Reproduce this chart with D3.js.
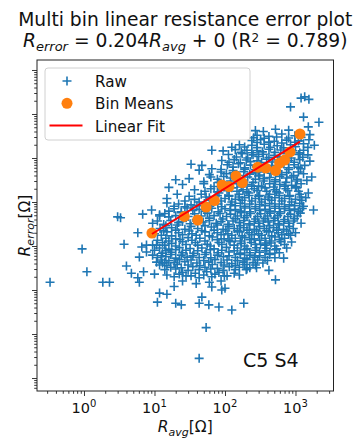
<!DOCTYPE html>
<html>
<head>
<meta charset="utf-8">
<script src="https://cdn.jsdelivr.net/npm/d3@7"></script>
<style>
  body { margin: 0; background: #fff; }
  svg { display: block; font-family: "DejaVu Sans", sans-serif; }
  text { white-space: pre; fill: #111; }
</style>
</head>
<body>
<svg id="chart" width="357" height="440"></svg>
<script>
// ---- data -------------------------------------------------------------
const titleText = "Multi bin linear resistance error plot";
const fitSlope = 0.204;
const fitIntercept = 0;
const fitR2 = 0.789;
const panelLabel = "C5 S4";
const legendLabels = ["Raw", "Bin Means", "Linear Fit"];
const xMajorExponents = [0, 1, 2, 3];
const yMajorExponents = [-3, -2, -1, 0, 1, 2, 3, 4];

// bin means  (R_avg [Ω], R_error [Ω])
const binAvg   = [9.2, 26.5, 41, 54, 71, 91, 114, 143, 176, 292, 378, 522, 595, 700, 837, 1157];
const binError = [1.97, 4.7, 3.9, 7.7, 10.8, 24.3, 22.5, 39, 27.7, 62, 59, 52, 77, 90, 137, 351];

// raw samples  [R_avg, R_error] in Ω
const rawPoints = [
  [1200,2300],[1350,2450],[1550,2150],[850,1450],[1300,850],[2150,650],[1520,510],
  [270,420],[350,400],[520,450],[800,430],
  [285,330],[420,310],[640,350],[980,320],[1600,340],
  [255,290],[360,280],[540,300],[800,285],[1200,295],
  [240,250],[320,260],[500,240],[750,255],[1100,245],[1550,260],
  [285,225],[420,230],[640,220],[980,228],
  [160,200],[240,195],[360,205],[550,190],[850,200],[1300,210],[1850,195],
  [125,175],[190,178],[285,172],[440,176],[680,170],[1000,180],[1500,174],
  [65,150],[94,145],[140,155],[205,150],[285,148],[420,158],[620,152],[910,146],[1300,150],
  [170,135],[240,132],[340,138],[510,134],[780,136],[1150,131],
  [112,120],[175,125],[250,118],[350,122],[500,115],[750,125],[1100,120],[1500,118],
  [145,105],[210,100],[300,108],[420,103],[600,106],[870,100],[1270,104],
  [90,88],[135,92],[200,90],[285,86],[390,94],[560,90],[800,88],[1150,92],[1600,85],
  [114,80],[165,78],[230,82],[330,79],[470,81],[680,77],[960,80],
  [33,72],[47,68],[108,70],[155,74],[230,69],[320,71],[460,67],[680,73],[960,70],[1350,68],
  [130,62],[190,60],[280,63],[390,61],[560,64],[800,60],[1100,62],
  [43,53],[65,57],[88,55],[130,52],[190,56],[270,54],[380,58],[540,53],[800,55],[1180,57],[1700,37],
  [88,48],[130,47],[185,49],[270,46],[360,48],[520,50],[750,47],[1100,48],
  [60,42],[105,44],[155,40],[225,43],[310,41],[450,45],[640,42],[940,40],[1300,44],
  [63,37],[96,38],[145,36],[210,37],[300,39],[430,36],[600,38],[880,37],
  [20,32],[31,34],[78,33],[120,35],[180,31],[270,33],[360,34],[520,32],[750,35],[1060,33],[1450,31],
  [50,29],[82,28],[120,30],[170,29],[250,28],[350,30],[510,29],[730,28],[1030,30],
  [25,25],[50,26],[100,24],[148,26],[205,25],[300,23],[430,26],[600,25],[880,24],[1200,26],
  [70,22.5],[112,23],[170,22],[240,23],[330,22.5],[490,22],[700,23],[1000,22.5],
  [16,21.5],[37,19],[63,20],[125,21],[180,19],[260,20],[370,21],[510,19],[730,20],[1030,21],
  [52,17.5],[78,17],[107,18],[148,17.5],[205,17],[285,18],[390,17.5],[540,17],[780,18],[1100,17.5],
  [21,15],[46,15],[82,16],[114,14],[158,15],[218,16],[310,14],[430,15],[590,16],[830,14],[1150,15],[1520,16],
  [31,13.5],[54,13],[78,14],[114,13.5],[160,13],[220,14],[300,13.5],[410,13],[590,14],[820,13.5],[1200,13],
  [15,12],[37,11.5],[60,12.5],[100,12],[140,11.5],[190,12.5],[270,12],[370,11.5],[510,12.5],[700,12],[1000,11.5],[1400,12.5],
  [27,10.5],[43,10],[63,11],[88,10.5],[125,10],[175,11],[240,10.5],[330,10],[460,11],[640,10.5],[880,10],[1230,11],
  [15,9.5],[22,9],[33,8.6],[51,9.3],[79,9],[120,8.7],[165,9.4],[225,9],[310,8.8],[430,9.2],[590,9],[820,8.6],[1150,9.3],
  [19,8],[27,7.8],[40,8.2],[61,8],[90,7.8],[140,8.2],[190,8],[270,7.8],[370,8.2],[510,8],[700,7.8],[970,8.2],[1300,8],
  [19,7],[29,7.3],[43,6.8],[65,7.2],[100,7],[140,6.7],[190,7.3],[270,7],[370,6.8],[510,7.2],[700,7],[970,6.9],[1250,7.1],[1800,6.6],
  [16,6.2],[24,6],[35,6.4],[52,6.2],[80,6],[118,6.4],[165,6.2],[225,6],[310,6.4],[430,6.2],[590,6],[820,6.4],[1100,6.2],
  [6.8,5.3],[9.1,6.6],[11.8,5.1],[14,5.5],[24,5.7],[37,5.4],[56,5.6],[85,5.5],[120,5.3],[170,5.7],[230,5.5],[320,5.4],[440,5.6],[610,5.5],[850,5.3],[1170,5.6],
  [11.8,4.8],[20,4.9],[30,4.7],[46,4.8],[70,4.9],[105,4.7],[150,4.8],[205,4.9],[290,4.7],[400,4.8],[560,4.9],[780,4.7],[1060,4.8],
  [3,4.6],[3.3,4.4],[16,4.6],[25,4.2],[39,4.0],[60,4.3],[93,4.1],[140,4.2],[190,4.4],[270,4.1],[370,4.2],[510,4.3],[700,4.0],[970,4.2],
  [11,3.7],[17,3.8],[25,3.6],[39,3.7],[60,3.8],[88,3.6],[130,3.7],[185,3.8],[260,3.6],[350,3.7],[490,3.8],[680,3.6],[940,3.7],
  [9.4,3.3],[13.5,3.1],[22,3.4],[32,3.2],[49,3.5],[75,3.3],[110,3.1],[160,3.4],[220,3.2],[300,3.3],[410,3.5],[570,3.2],[800,3.3],[1200,3.3],
  [14.5,2.9],[21,3],[33,2.8],[52,2.9],[78,3],[114,2.8],[165,2.9],[225,3],[310,2.8],[430,2.9],[590,3],[820,2.8],
  [12,2.5],[17.5,2.6],[27,2.4],[41,2.5],[64,2.7],[94,2.4],[135,2.5],[185,2.6],[260,2.4],[360,2.5],[490,2.6],[680,2.4],[930,2.5],
  [13.5,2.25],[20,2.3],[31,2.2],[47,2.25],[70,2.3],[103,2.2],[150,2.25],[205,2.3],[280,2.2],[390,2.25],[540,2.3],[750,2.2],
  [5.8,2],[10,1.9],[15,2.1],[22,2],[34,1.9],[52,2.1],[78,2],[110,1.9],[160,2.1],[220,2],[300,1.9],[420,2.1],[570,2],[800,1.9],[1000,2],
  [12.5,1.75],[17.5,1.7],[25,1.8],[39,1.75],[60,1.7],[88,1.8],[125,1.75],[175,1.7],[240,1.8],[330,1.75],[460,1.7],[640,1.8],[850,1.75],
  [14.5,1.5],[20,1.45],[30,1.55],[44,1.5],[66,1.6],[97,1.45],[140,1.5],[190,1.55],[260,1.45],[370,1.5],[510,1.6],[700,1.5],
  [11,1.35],[16,1.3],[23,1.4],[34,1.35],[52,1.3],[78,1.4],[114,1.35],[165,1.3],[225,1.4],[310,1.35],[430,1.3],[590,1.4],
  [3.7,1.1],[7.7,1.05],[9.4,1.05],[10.7,1.05],[13,1.2],[17.5,1.15],[25,1.25],[38,1.2],[56,1.1],[82,1.2],[118,1.25],[170,1.15],[235,1.2],[320,1.1],[380,1.17],[450,1.17],[620,1.25],[880,1.23],
  [14,1.05],[20,1.0],[28,1.08],[41,1.05],[62,1.0],[90,1.08],[135,1.05],[190,1.0],[270,1.08],[370,1.05],[510,1.0],[700,1.08],
  [0.94,0.86],[6.6,0.95],[11.8,0.9],[16,0.85],[22.5,0.92],[32,0.88],[47,0.9],[70,0.86],[105,0.93],[150,0.9],[205,0.87],[280,0.91],[390,0.89],[540,0.86],[750,0.9],
  [10,0.8],[14.5,0.78],[20,0.82],[28,0.8],[41,0.78],[62,0.82],[90,0.8],[135,0.78],[190,0.82],[270,0.8],[370,0.78],[510,0.82],
  [7.7,0.73],[13,0.69],[17.5,0.72],[25,0.7],[36,0.68],[54,0.71],[80,0.7],[114,0.73],[165,0.69],[225,0.7],[310,0.72],[430,0.68],[590,0.7],
  [9.4,0.62],[12.5,0.6],[17,0.64],[24,0.62],[35,0.6],[52,0.64],[78,0.62],[114,0.6],[165,0.64],[225,0.62],[310,0.6],[430,0.64],
  [6.1,0.56],[11,0.55],[14.5,0.57],[20,0.53],[29,0.56],[43,0.55],[63,0.54],[95,0.57],[140,0.55],[190,0.53],[265,0.56],[370,0.55],[510,0.54],[680,0.53],
  [12.5,0.48],[16,0.47],[22.5,0.49],[33,0.48],[50,0.47],[72,0.49],[107,0.48],[150,0.47],[205,0.49],[290,0.48],[400,0.47],
  [10.7,0.43],[13,0.41],[14,0.42],[19,0.42],[27,0.44],[40,0.41],[59,0.43],[88,0.42],[125,0.4],[180,0.43],[250,0.42],[345,0.41],
  [11.8,0.37],[15,0.36],[21,0.38],[30,0.37],[44,0.36],[66,0.38],[97,0.37],[140,0.36],[190,0.38],[270,0.37],
  [4,0.35],[17,0.33],[24,0.32],[35,0.34],[52,0.33],[78,0.31],[115,0.34],[160,0.33],[225,0.32],[280,0.32],[420,0.28],
  [14,0.29],[20,0.3],[30,0.28],[43,0.29],[63,0.3],[94,0.28],[140,0.29],[205,0.3],
  [1.1,0.26],[4.7,0.24],[7,0.26],[10,0.23],[25,0.25],[38,0.24],[55,0.26],[82,0.25],[135,0.24],[200,0.29],
  [15,0.22],[22.5,0.23],[33,0.21],[50,0.22],[72,0.23],[107,0.21],[160,0.22],
  [5.8,0.19],[19,0.2],[28,0.21],[43,0.19],[65,0.2],[98,0.21],[520,0.17],
  [0.33,0.15],[1.85,0.15],[2.3,0.15],[6.1,0.15],[25,0.16],[39,0.14],[60,0.15],[88,0.16],
  [19,0.12],[65,0.117],[100,0.11],[90,0.1],[11.8,0.085],[15,0.08],[47,0.069],
  [11,0.053],[20,0.05],[24,0.046],[43,0.05],[59,0.046],[82,0.041],[125,0.035],[185,0.05],[54,0.014],[43,0.0028]
];

// ---- layout -----------------------------------------------------------
const plot = { left: 37, right: 333.5, top: 60, bottom: 391 };
const blue = "#1f77b4", orange = "#ff7f0e", red = "#ff0000";

const svg = d3.select("#chart");

const x = d3.scaleLog().domain([0.2155, 3460]).range([plot.left, plot.right]);
const y = d3.scaleLog().domain([5.07e-4, 16870]).range([plot.bottom, plot.top]);

// minor tick positions: 2..9 × each decade inside the domain
function minorTicks(scale) {
  const [lo, hi] = scale.domain();
  const out = [];
  for (let e = Math.floor(Math.log10(lo)); e <= Math.ceil(Math.log10(hi)); e++) {
    for (let m = 2; m <= 9; m++) {
      const v = m * Math.pow(10, e);
      if (v >= lo && v <= hi) out.push(v);
    }
  }
  return out;
}

// ---- axes -------------------------------------------------------------
const xMajor = xMajorExponents.map(e => Math.pow(10, e));
const yMajor = yMajorExponents.map(e => Math.pow(10, e));

function styleAxis(g) {
  g.select(".domain").remove();
  g.selectAll("line").attr("stroke", "#222").attr("stroke-width", 0.9);
}

svg.append("g")
  .attr("transform", `translate(0,${plot.bottom})`)
  .call(d3.axisBottom(x).tickValues(minorTicks(x)).tickSize(2.8).tickFormat(""))
  .call(styleAxis);
svg.append("g")
  .attr("transform", `translate(0,${plot.bottom})`)
  .call(d3.axisBottom(x).tickValues(xMajor).tickSize(5).tickFormat(""))
  .call(styleAxis);

svg.append("g")
  .attr("transform", `translate(${plot.left},0)`)
  .call(d3.axisLeft(y).tickValues(minorTicks(y)).tickSize(2.8).tickFormat(""))
  .call(styleAxis);
svg.append("g")
  .attr("transform", `translate(${plot.left},0)`)
  .call(d3.axisLeft(y).tickValues(yMajor).tickSize(5).tickFormat(""))
  .call(styleAxis);

// x tick labels: 10 with superscript exponent
const xLab = svg.append("g").selectAll("text").data(xMajorExponents).join("text")
  .attr("x", d => x(Math.pow(10, d)))
  .attr("y", 413)
  .attr("text-anchor", "middle")
  .attr("font-size", 14.5);
xLab.append("tspan").text("10");
xLab.append("tspan").attr("font-size", 10).attr("dy", -6.5).text(d => d);

// ---- raw scatter ------------------------------------------------------
const plusPath = "M-4.5,0H4.5M0,-4.5V4.5";
svg.append("clipPath").attr("id", "plotClip").append("rect")
  .attr("x", plot.left).attr("y", plot.top)
  .attr("width", plot.right - plot.left).attr("height", plot.bottom - plot.top);

const pane = svg.append("g").attr("clip-path", "url(#plotClip)");

pane.append("g").selectAll("path").data(rawPoints).join("path")
  .attr("d", plusPath)
  .attr("transform", d => `translate(${x(d[0])},${y(d[1])})`)
  .attr("stroke", blue)
  .attr("stroke-width", 1.6)
  .attr("fill", "none");

// ---- bin means --------------------------------------------------------
pane.append("g").selectAll("circle").data(binAvg).join("circle")
  .attr("cx", d => x(d))
  .attr("cy", (d, i) => y(binError[i]))
  .attr("r", 5.5)
  .attr("fill", orange);

// ---- linear fit -------------------------------------------------------
const fitX = d3.extent(binAvg);
const fitLine = d3.line().x(d => x(d)).y(d => y(fitSlope * d + fitIntercept));
pane.append("path")
  .datum(fitX)
  .attr("d", fitLine)
  .attr("stroke", red)
  .attr("stroke-width", 2)
  .attr("fill", "none");

// ---- frame ------------------------------------------------------------
svg.append("rect")
  .attr("x", plot.left).attr("y", plot.top)
  .attr("width", plot.right - plot.left).attr("height", plot.bottom - plot.top)
  .attr("fill", "none").attr("stroke", "#222").attr("stroke-width", 1);

// ---- legend -----------------------------------------------------------
const legend = svg.append("g");
legend.append("rect")
  .attr("x", 45).attr("y", 68).attr("width", 205).attr("height", 72)
  .attr("rx", 3).attr("fill", "#fff").attr("fill-opacity", 0.85)
  .attr("stroke", "#d0d0d0").attr("stroke-width", 1);
legend.append("path").attr("d", plusPath).attr("transform", "translate(67,81)")
  .attr("stroke", blue).attr("stroke-width", 1.6);
legend.append("circle").attr("cx", 67).attr("cy", 103.3).attr("r", 5.5).attr("fill", orange);
legend.append("line").attr("x1", 49.5).attr("x2", 82.5).attr("y1", 125.5).attr("y2", 125.5)
  .attr("stroke", red).attr("stroke-width", 2);
legend.selectAll("text.lg").data(legendLabels).join("text")
  .attr("class", "lg")
  .attr("x", 95)
  .attr("y", (d, i) => 86.5 + i * 22.5)
  .attr("font-size", 15.2)
  .text(d => d);

// ---- panel label ------------------------------------------------------
svg.append("text").attr("x", 243).attr("y", 367).attr("font-size", 19).text(panelLabel);

// ---- titles -----------------------------------------------------------
const cx = (plot.left + plot.right) / 2;
svg.append("text").attr("x", cx).attr("y", 26).attr("text-anchor", "middle")
  .attr("font-size", 18.7).text(titleText);

const t2 = svg.append("text").attr("x", cx).attr("y", 47).attr("text-anchor", "middle")
  .attr("font-size", 18.7);
t2.append("tspan").attr("font-style", "italic").text("R");
t2.append("tspan").attr("font-style", "italic").attr("font-size", 13).attr("dy", 4).text("error");
t2.append("tspan").attr("dy", -4).text(` = ${fitSlope.toFixed(3)}`);
t2.append("tspan").attr("font-style", "italic").text("R");
t2.append("tspan").attr("font-style", "italic").attr("font-size", 13).attr("dy", 4).text("avg");
t2.append("tspan").attr("dy", -4).text(` + ${fitIntercept} (R`);
t2.append("tspan").attr("font-size", 12).attr("dy", -5.5).text("2");
t2.append("tspan").attr("dy", 5.5).text(` = ${fitR2.toFixed(3)})`);

// ---- axis labels ------------------------------------------------------
const xl = svg.append("text").attr("x", cx).attr("y", 432).attr("text-anchor", "middle")
  .attr("font-size", 15.5);
xl.append("tspan").attr("font-style", "italic").text("R");
xl.append("tspan").attr("font-style", "italic").attr("font-size", 11).attr("dy", 3.5).text("avg");
xl.append("tspan").attr("dy", -3.5).text("[Ω]");

const yl = svg.append("text")
  .attr("transform", `translate(30,${(plot.top + plot.bottom) / 2}) rotate(-90)`)
  .attr("text-anchor", "middle")
  .attr("font-size", 15.5);
yl.append("tspan").attr("font-style", "italic").text("R");
yl.append("tspan").attr("font-style", "italic").attr("font-size", 11).attr("dy", 3.5).text("error");
yl.append("tspan").attr("dy", -3.5).text("[Ω]");
</script>
</body>
</html>
